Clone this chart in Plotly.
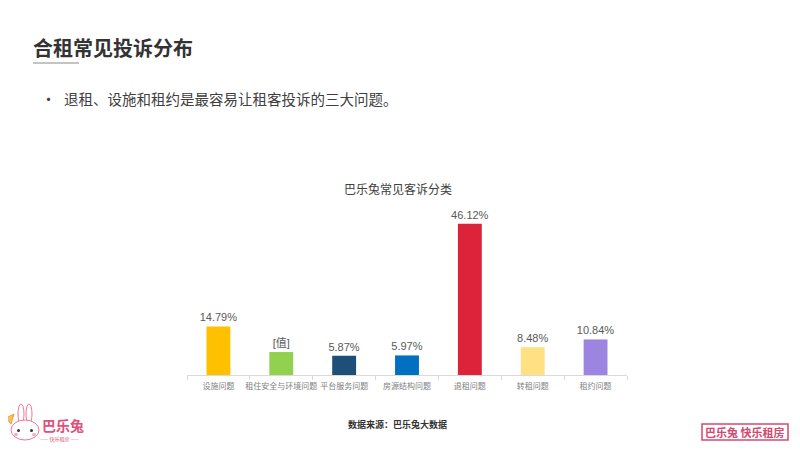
import plotly.graph_objects as go

W, H = 800, 450
OFF = 8  # page body margin offset

categories = ["设施问题", "租住安全与环境问题", "平台服务问题", "房源结构问题", "退租问题", "转租问题", "租约问题"]
values = [14.79, 7.0, 5.87, 5.97, 46.12, 8.48, 10.84]
labels = ["14.79%", "[值]", "5.87%", "5.97%", "46.12%", "8.48%", "10.84%"]
colors = ["#FFC000", "#92D050", "#1F4E79", "#0070C0", "#DC2339", "#FFE083", "#9B85E0"]

FONT = "Liberation Sans, Noto Sans CJK SC, sans-serif"
CJK = "Noto Sans CJK SC, sans-serif"


def px(x):
    return (x - OFF) / W


def py(y):
    return 1 - (y - OFF) / H


fig = go.Figure(go.Bar(
    x=categories, y=values, marker=dict(color=colors, line=dict(width=0)),
    text=labels, textposition="outside", cliponaxis=False, constraintext="none",
    textfont=dict(size=11, color="#595959", family=FONT),
    hoverinfo="skip",
))

fig.update_layout(
    width=W, height=H, margin=dict(l=0, r=0, t=0, b=0),
    paper_bgcolor="white", plot_bgcolor="white", showlegend=False,
    bargap=0.62,
    xaxis=dict(domain=[px(187), px(627)], showline=True, linecolor="#d9d9d9", linewidth=1,
               ticks="outside", tickson="boundaries", ticklen=4, tickcolor="#d9d9d9",
               tickangle=0, automargin=False, ticklabelstandoff=3,
               tickfont=dict(size=8, color="#808080", family=CJK), fixedrange=True),
    yaxis=dict(domain=[py(375), py(211)], range=[0, 50], visible=False, fixedrange=True),
)

ann = []
def text(x, y, s, size, color, bold=False, xanchor="center", family=CJK):
    ann.append(dict(x=px(x), y=py(y), xref="paper", yref="paper", text=("<b>%s</b>" % s) if bold else s,
                    showarrow=False, xanchor=xanchor, yanchor="middle",
                    font=dict(size=size, color=color, family=family)))

text(31, 47, "合租常见投诉分布", 20, "#333333", bold=True, xanchor="left")
text(48, 99, "•", 15, "#404040")
text(62, 99, "退租、设施和租约是最容易让租客投诉的三大问题。", 14.5, "#404040", xanchor="left")
text(398, 188, "巴乐兔常见客诉分类", 12, "#404040")
text(397, 424, "数据来源：巴乐兔大数据", 9, "#333333", bold=True)
# left logo text
text(40, 425, "巴乐兔", 14, "#E0507C", bold=True, xanchor="left")
text(60, 439, "—— 快乐租房 ——", 5, "#E0507C")
# right logo text
text(745, 432, "巴乐兔 快乐租房", 11, "#D4486E", bold=True)
fig.update_layout(annotations=ann)

shapes = []
# title underline
shapes.append(dict(type="line", xref="paper", yref="paper", x0=px(33), x1=px(79), y0=py(63), y1=py(63),
                   line=dict(color="#b0b0b0", width=1.5)))
# right logo border
shapes.append(dict(type="rect", xref="paper", yref="paper", x0=px(702), x1=px(788), y0=py(424), y1=py(440),
                   line=dict(color="#D4486E", width=1.5), fillcolor="rgba(0,0,0,0)"))
# simple rabbit icon
shapes.append(dict(type="circle", xref="paper", yref="paper", x0=px(18), x1=px(24), y0=py(424), y1=py(404),
                   line=dict(color="#E87A9A", width=1), fillcolor="white"))
shapes.append(dict(type="circle", xref="paper", yref="paper", x0=px(26), x1=px(32), y0=py(424), y1=py(404),
                   line=dict(color="#E87A9A", width=1), fillcolor="white"))
shapes.append(dict(type="circle", xref="paper", yref="paper", x0=px(11), x1=px(39), y0=py(440), y1=py(420),
                   line=dict(color="#E87A9A", width=1), fillcolor="white"))
shapes.append(dict(type="circle", xref="paper", yref="paper", x0=px(17), x1=px(20), y0=py(432), y1=py(429),
                   line=dict(width=0), fillcolor="#333333"))
shapes.append(dict(type="circle", xref="paper", yref="paper", x0=px(30), x1=px(33), y0=py(432), y1=py(429),
                   line=dict(width=0), fillcolor="#333333"))
shapes.append(dict(type="circle", xref="paper", yref="paper", x0=px(14), x1=px(18), y0=py(436), y1=py(433),
                   line=dict(width=0), fillcolor="#F6A9BE"))
shapes.append(dict(type="circle", xref="paper", yref="paper", x0=px(32), x1=px(36), y0=py(436), y1=py(433),
                   line=dict(width=0), fillcolor="#F6A9BE"))
shapes.append(dict(type="path", xref="paper", yref="paper",
                   path="M %f %f L %f %f L %f %f Z" % (px(6), py(418), px(14), py(414), px(11), py(424)),
                   line=dict(color="#F0A030", width=1), fillcolor="#F8C060"))
fig.update_layout(shapes=shapes)

fig.write_html("out.html")
